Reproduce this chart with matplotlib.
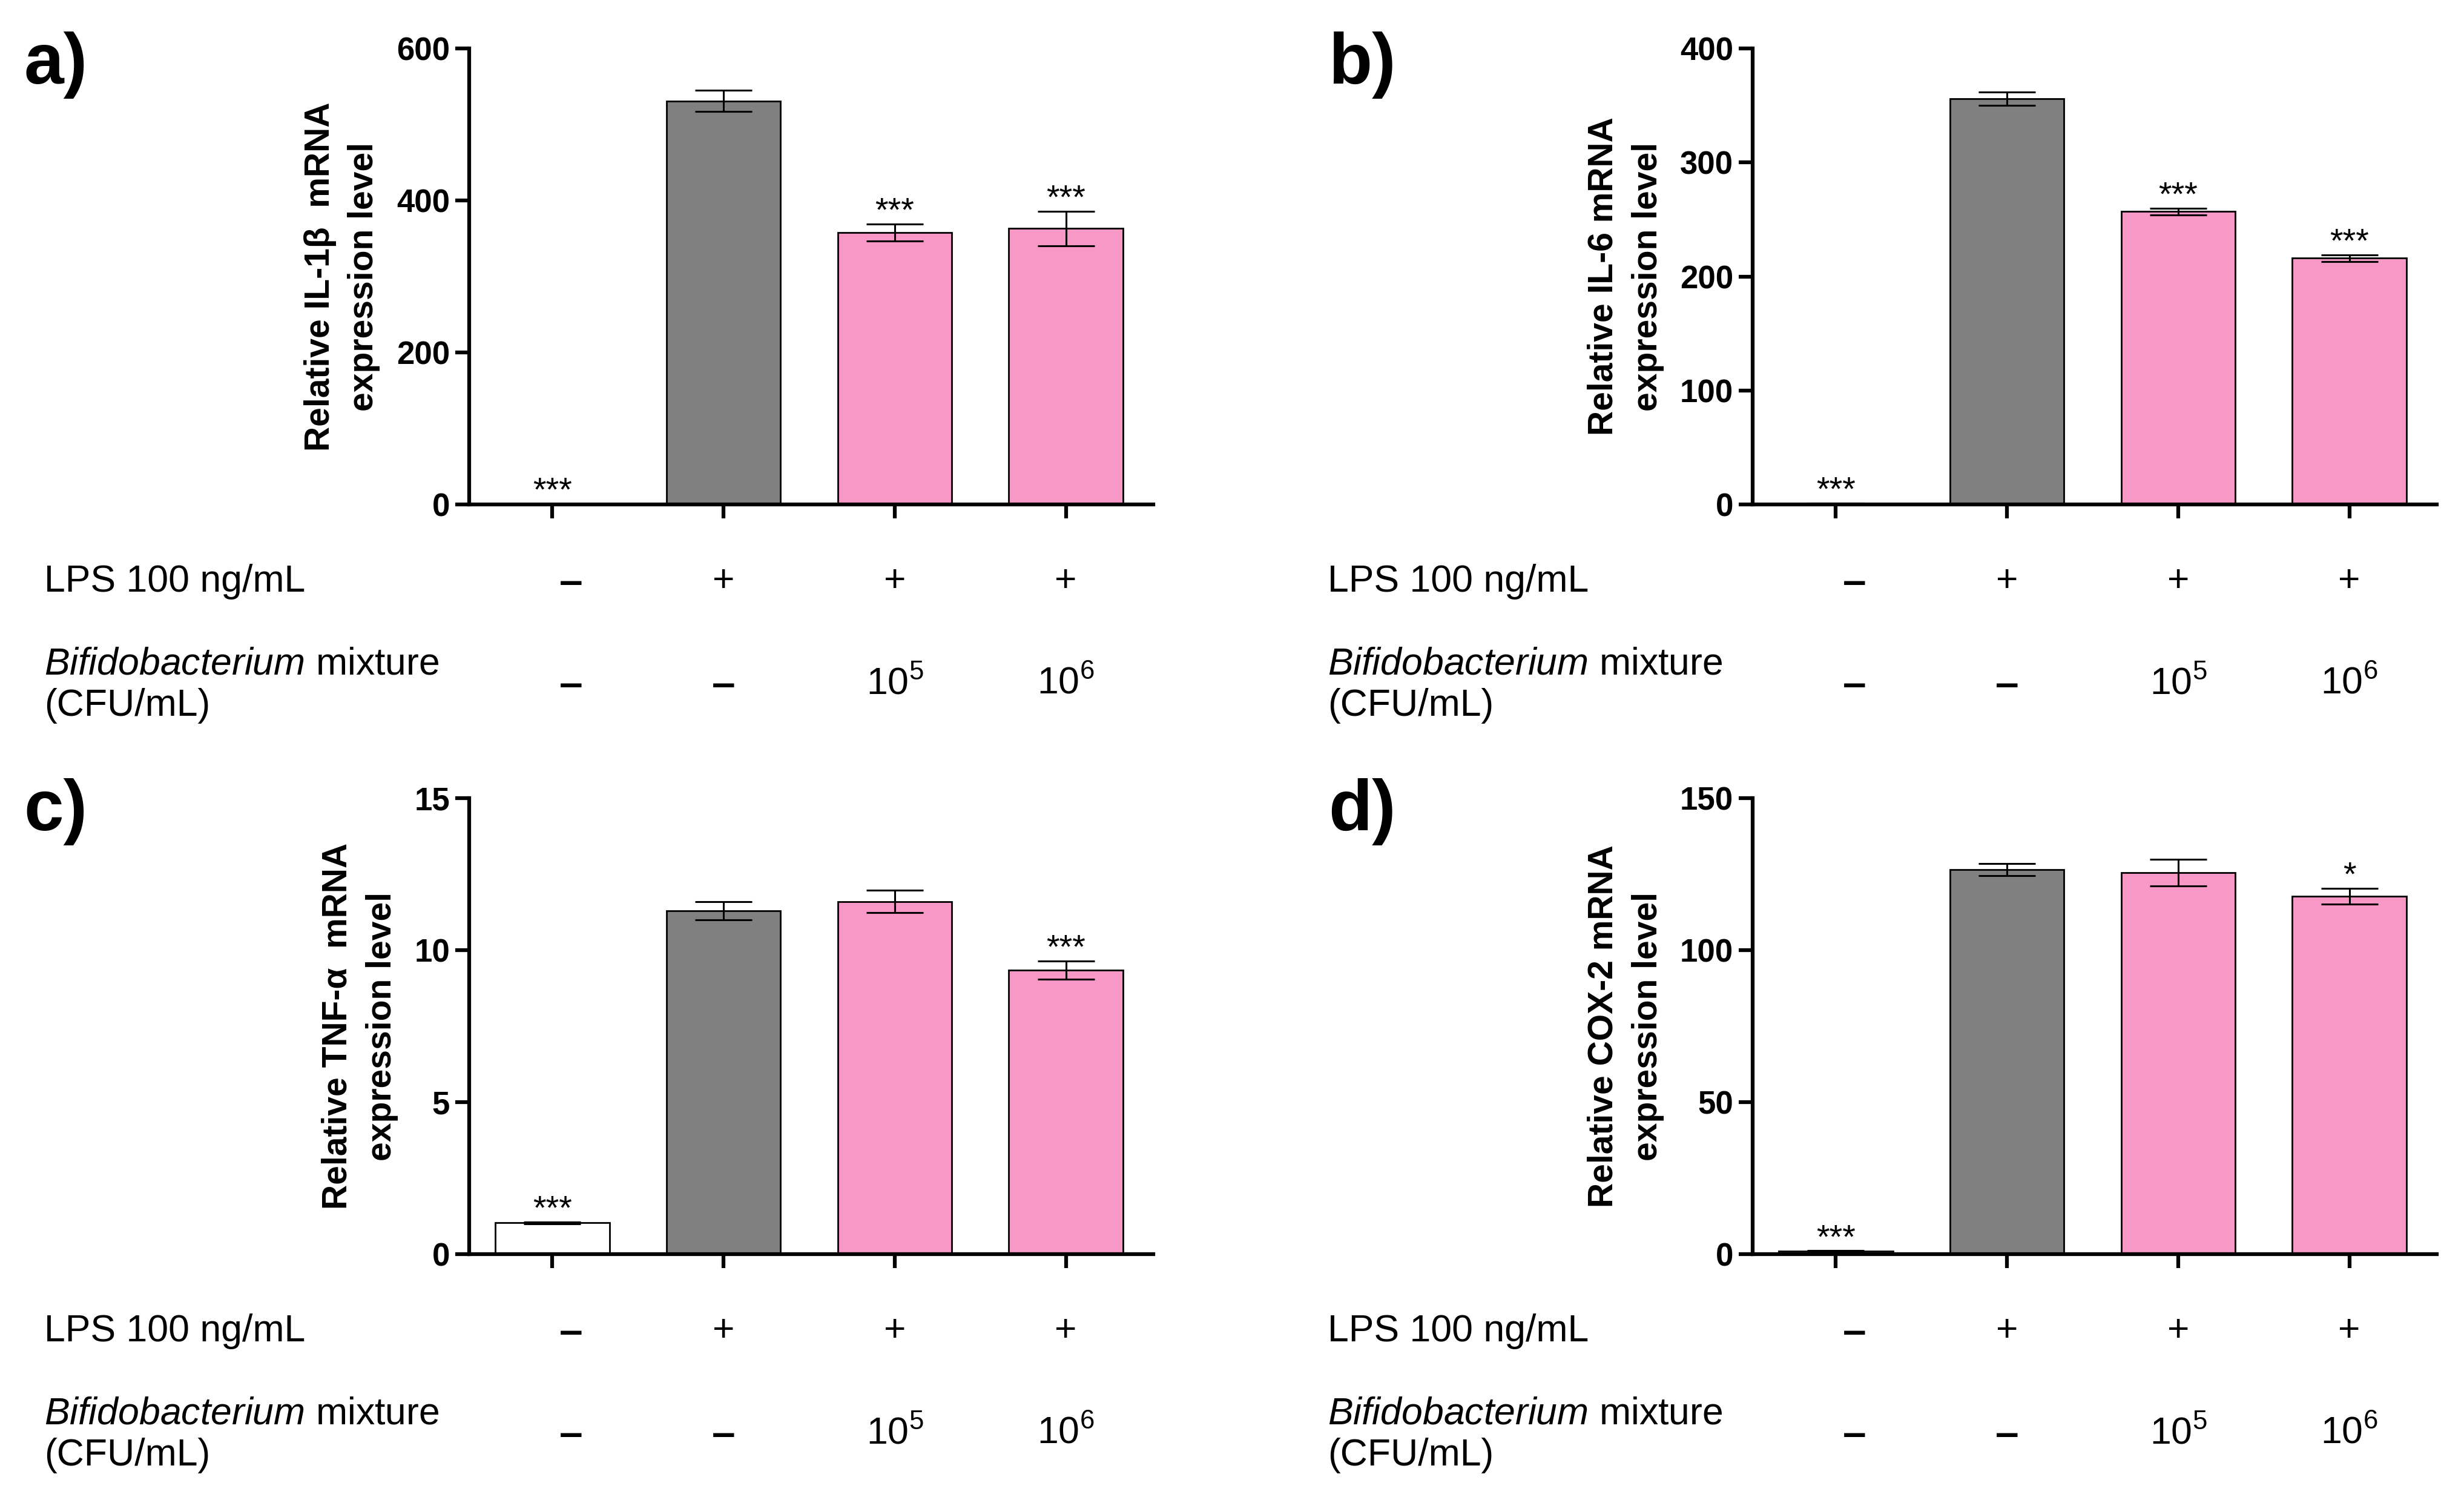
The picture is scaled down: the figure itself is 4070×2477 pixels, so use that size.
import matplotlib.pyplot as plt
import matplotlib.transforms as mtransforms

plt.rcParams['font.family'] = ['Liberation Sans', 'DejaVu Sans']
plt.rcParams['mathtext.fontset'] = 'custom'
plt.rcParams['mathtext.rm'] = 'Liberation Sans'
plt.rcParams['mathtext.it'] = 'Liberation Sans:italic'
plt.rcParams['mathtext.bf'] = 'Liberation Sans:bold'
plt.rcParams['mathtext.default'] = 'regular'

########################################
# Data
########################################

x_pos = [0, 1, 2, 3]
lps_signs = ['\u2013', '+', '+', '+']
bifido_doses = ['\u2013', '\u2013', '10$^5$', '10$^6$']
bar_colors = ['white', '#808080', '#F898C6', '#F898C6']

# a) IL-1beta
il1b_mean = [1.0, 531, 358, 363]
il1b_sem = [0.1, 14, 11, 23]
il1b_stars = ['***', '', '***', '***']
il1b_ticks = [0, 200, 400, 600]

# b) IL-6
il6_mean = [1.0, 356, 257, 216]
il6_sem = [0.1, 6, 3, 3]
il6_stars = ['***', '', '***', '***']
il6_ticks = [0, 100, 200, 300, 400]

# c) TNF-alpha
tnf_mean = [1.03, 11.3, 11.6, 9.35]
tnf_sem = [0.03, 0.3, 0.37, 0.3]
tnf_stars = ['***', '', '', '***']
tnf_ticks = [0, 5, 10, 15]

# d) COX-2
cox2_mean = [1.0, 126.5, 125.5, 117.8]
cox2_sem = [0.1, 2.0, 4.4, 2.6]
cox2_stars = ['***', '', '', '*']
cox2_ticks = [0, 50, 100, 150]

###################################
# Figure and panel layout
###################################

fig = plt.figure(figsize=(40.7, 24.77), dpi=100)

ax_w = 0.2776
ax_h = 0.304
left_col = 0.1904
right_col = 0.7113
top_row = 0.6637
bottom_row = 0.1639

# the first column of +/- signs sits a little right of its bar
col_shift = [0.11, 0, 0, 0]


# draw one bar panel with its annotation rows underneath
def draw_panel(pos, mean, sem, stars, ticks, ylabel, letter, letter_xy):
    ax = fig.add_axes(pos)
    ax.bar(x_pos, mean, width=0.667, color=bar_colors, edgecolor='black',
           linewidth=2, zorder=2)
    ax.errorbar(x_pos, mean, yerr=sem, fmt='none', ecolor='black',
                elinewidth=2.2, capsize=34, capthick=2.2, zorder=3)

    for xi, m, s, st in zip(x_pos, mean, sem, stars):
        if st:
            ax.annotate(st, (xi, m + s), xytext=(0, 4),
                        textcoords='offset points', ha='center',
                        va='baseline', fontsize=40)

    ax.set_xlim(-0.486, 3.51)
    ax.set_ylim(ticks[0], ticks[-1])
    ax.set_yticks(ticks)
    ax.set_xticks(x_pos)
    ax.set_xticklabels([])
    ax.spines['top'].set_visible(False)
    ax.spines['right'].set_visible(False)
    ax.spines['left'].set_linewidth(4.5)
    ax.spines['bottom'].set_linewidth(4.5)
    ax.tick_params(direction='out', length=16.5, width=4.5, pad=6.5,
                   labelsize=38)
    for lab in ax.get_yticklabels():
        lab.set_fontweight('bold')

    ax.set_ylabel(ylabel, fontsize=41, fontweight='bold', labelpad=19,
                  linespacing=1.45)

    # treatment rows below the axis
    trans = mtransforms.blended_transform_factory(ax.transData, ax.transAxes)
    ax.text(-0.621, -0.169, 'LPS 100 ng/mL', transform=ax.transAxes,
            ha='left', va='center', fontsize=45)
    ax.text(-0.621, -0.396, '$\\it{Bifidobacterium}$ mixture\n(CFU/mL)',
            transform=ax.transAxes, ha='left', va='center', fontsize=45)
    for xi, dx, s1, s2 in zip(x_pos, col_shift, lps_signs, bifido_doses):
        for s, yrow in ((s1, -0.169), (s2, -0.393)):
            if s == '\u2013':
                ax.text(xi + dx, yrow - 0.004, s, transform=trans,
                        ha='center', va='center', fontsize=50,
                        fontweight='bold')
            else:
                ax.text(xi + dx, yrow, s, transform=trans, ha='center',
                        va='center', fontsize=45)

    fig.text(letter_xy[0], letter_xy[1], letter, ha='left', va='top',
             fontsize=85, fontweight='bold')
    return ax


draw_panel([left_col, top_row, ax_w, ax_h], il1b_mean, il1b_sem, il1b_stars,
           il1b_ticks, 'Relative IL-1\u03b2  mRNA\nexpression level', 'a)',
           (0.0096, 0.979))
draw_panel([right_col, top_row, ax_w, ax_h], il6_mean, il6_sem, il6_stars,
           il6_ticks, 'Relative IL-6 mRNA\nexpression level', 'b)',
           (0.539, 0.979))
draw_panel([left_col, bottom_row, ax_w, ax_h], tnf_mean, tnf_sem, tnf_stars,
           tnf_ticks, 'Relative TNF-\u03b1  mRNA\nexpression level', 'c)',
           (0.0096, 0.4812))
draw_panel([right_col, bottom_row, ax_w, ax_h], cox2_mean, cox2_sem,
           cox2_stars, cox2_ticks, 'Relative COX-2 mRNA\nexpression level',
           'd)', (0.539, 0.4812))

fig.savefig('out.png', dpi=100)
